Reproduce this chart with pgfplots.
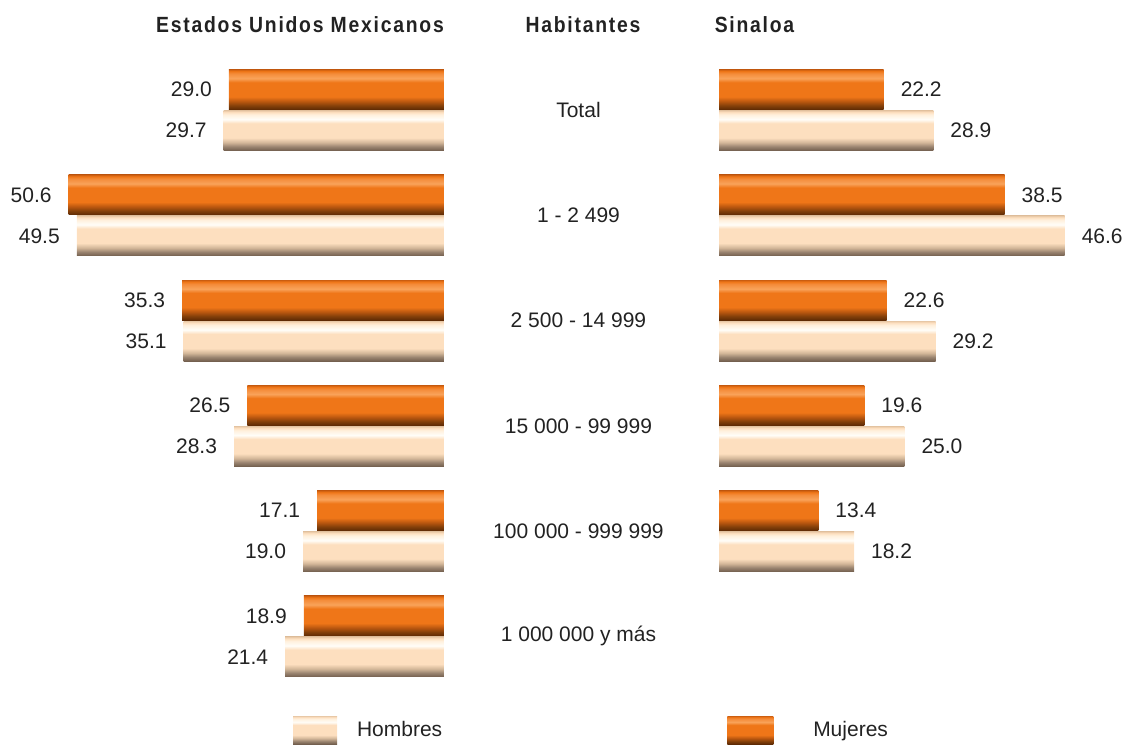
\documentclass[border=0pt]{standalone}
\usepackage{pgfplots}
\pgfplotsset{compat=1.18}
\usepackage{fontspec}
\setmainfont{Liberation Sans}
\newfontfamily\titlefont{Liberation Sans}[FakeStretch=0.88,LetterSpace=8]
\definecolor{txt}{HTML}{222222}
% Mujeres (orange bevel)
\definecolor{mujB}{HTML}{5E2A04}
\definecolor{mujB2}{HTML}{84400A}
\definecolor{mujL}{HTML}{B8560F}
\definecolor{mujM}{HTML}{EF7618}
\definecolor{mujH}{HTML}{F9A35A}
\definecolor{mujH2}{HTML}{F48C3A}
\definecolor{mujT}{HTML}{CC5E10}
% Hombres (cream bevel)
\definecolor{homB}{HTML}{735F4E}
\definecolor{homB2}{HTML}{9A8470}
\definecolor{homL}{HTML}{D2B698}
\definecolor{homM}{HTML}{FDDFBF}
\definecolor{homH}{HTML}{FFFDF8}
\definecolor{homH2}{HTML}{FFF0DC}
\definecolor{homT}{HTML}{E8C8A6}
\pgfdeclareverticalshading{mujshade}{100bp}{color(0bp)=(mujB); color(25bp)=(mujB); color(30bp)=(mujB2); color(35bp)=(mujL); color(41bp)=(mujM); color(59bp)=(mujM); color(64bp)=(mujH); color(70bp)=(mujH2); color(73bp)=(mujM); color(75bp)=(mujT); color(100bp)=(mujT)}
\pgfdeclareverticalshading{homshade}{100bp}{color(0bp)=(homB); color(25bp)=(homB); color(30bp)=(homB2); color(35bp)=(homL); color(41bp)=(homM); color(59bp)=(homM); color(64bp)=(homH); color(70bp)=(homH2); color(73bp)=(homM); color(75bp)=(homT); color(100bp)=(homT)}

\pgfplotsset{
  popbars/.style={
    xbar,
    scale only axis,
    width=204pt,
    height=315.8pt,
    xmin=0, xmax=55,
    ymin=-0.5, ymax=5.5,
    y dir=reverse,
    bar width=20pt,
    axis line style={draw=none},
    tick style={draw=none},
    xtick=\empty,
    ytick={0,...,5},
    font=\fontsize{10.5}{12}\selectfont\color{txt},
    nodes near coords,
    /pgf/number format/.cd, fixed, zerofill, precision=1, assume math mode=true,
    /pgfplots/.cd,
    clip=false,
  },
  % one \addplot per bar, so that each bar gets its own bevel shading
  mujer/.style={shade, shading=mujshade, draw=none, bar shift=10.25pt, forget plot},
  hombre/.style={shade, shading=homshade, draw=none, bar shift=-10.25pt, forget plot},
}

\begin{document}
\begin{tikzpicture}[x=1pt,y=1pt]
\useasboundingbox (0,0) rectangle (563.5,373);

% Estados Unidos Mexicanos
\begin{axis}[popbars,
  at={(18pt,28.5pt)}, anchor=south west,
  x dir=reverse,
  yticklabels={},
  every node near coord/.append style={anchor=east, xshift=-5pt, text=txt},
]
\addplot[mujer] coordinates {(29.0,0)};
\addplot[mujer] coordinates {(50.6,1)};
\addplot[mujer] coordinates {(35.3,2)};
\addplot[mujer] coordinates {(26.5,3)};
\addplot[mujer] coordinates {(17.1,4)};
\addplot[mujer] coordinates {(18.9,5)};
\addplot[hombre] coordinates {(29.7,0)};
\addplot[hombre] coordinates {(49.5,1)};
\addplot[hombre] coordinates {(35.1,2)};
\addplot[hombre] coordinates {(28.3,3)};
\addplot[hombre] coordinates {(19.0,4)};
\addplot[hombre] coordinates {(21.4,5)};
\end{axis}

% Sinaloa
\begin{axis}[popbars,
  at={(359.5pt,28.5pt)}, anchor=south west,
  yticklabels={Total, 1 - 2 499, 2 500 - 14 999, 15 000 - 99 999, 100 000 - 999 999, 1 000 000 y más},
  yticklabel style={anchor=center, xshift=-66pt, text=txt},
  every node near coord/.append style={anchor=west, xshift=5pt, text=txt},
  legend columns=2,
  legend style={draw=none, fill=none, inner sep=0pt, outer sep=0pt,
    at={(-1.044,-0.0649)}, anchor=west,
    font=\fontsize{10.5}{12}\selectfont\color{txt},
    nodes={inner sep=0pt},
    column sep=10pt,
    /tikz/every even column/.append style={column sep=142.5pt},
    /tikz/column 3/.append style={column sep=20pt}},
]
\addplot[mujer] coordinates {(22.2,0)};
\addplot[mujer] coordinates {(38.5,1)};
\addplot[mujer] coordinates {(22.6,2)};
\addplot[mujer] coordinates {(19.6,3)};
\addplot[mujer] coordinates {(13.4,4)};
\addplot[hombre] coordinates {(28.9,0)};
\addplot[hombre] coordinates {(46.6,1)};
\addplot[hombre] coordinates {(29.2,2)};
\addplot[hombre] coordinates {(25.0,3)};
\addplot[hombre] coordinates {(18.2,4)};
\addlegendimage{draw=none, legend image code/.code={\shade[draw=none, shading=homshade] (0pt,-7pt) rectangle (22pt,7pt);}}
\addlegendentry{Hombres}
\addlegendimage{draw=none, legend image code/.code={\shade[draw=none, shading=mujshade] (0pt,-7pt) rectangle (23pt,7pt);}}
\addlegendentry{Mujeres}
\end{axis}

\node[font=\titlefont\bfseries\fontsize{11}{13}\selectfont, text=txt] at (150,360.5) {Estados Unidos Mexicanos};
\node[font=\titlefont\bfseries\fontsize{11}{13}\selectfont, text=txt] at (291.5,360.5) {Habitantes};
\node[font=\titlefont\bfseries\fontsize{11}{13}\selectfont, text=txt] at (377.25,360.5) {Sinaloa};
\end{tikzpicture}
\end{document}
